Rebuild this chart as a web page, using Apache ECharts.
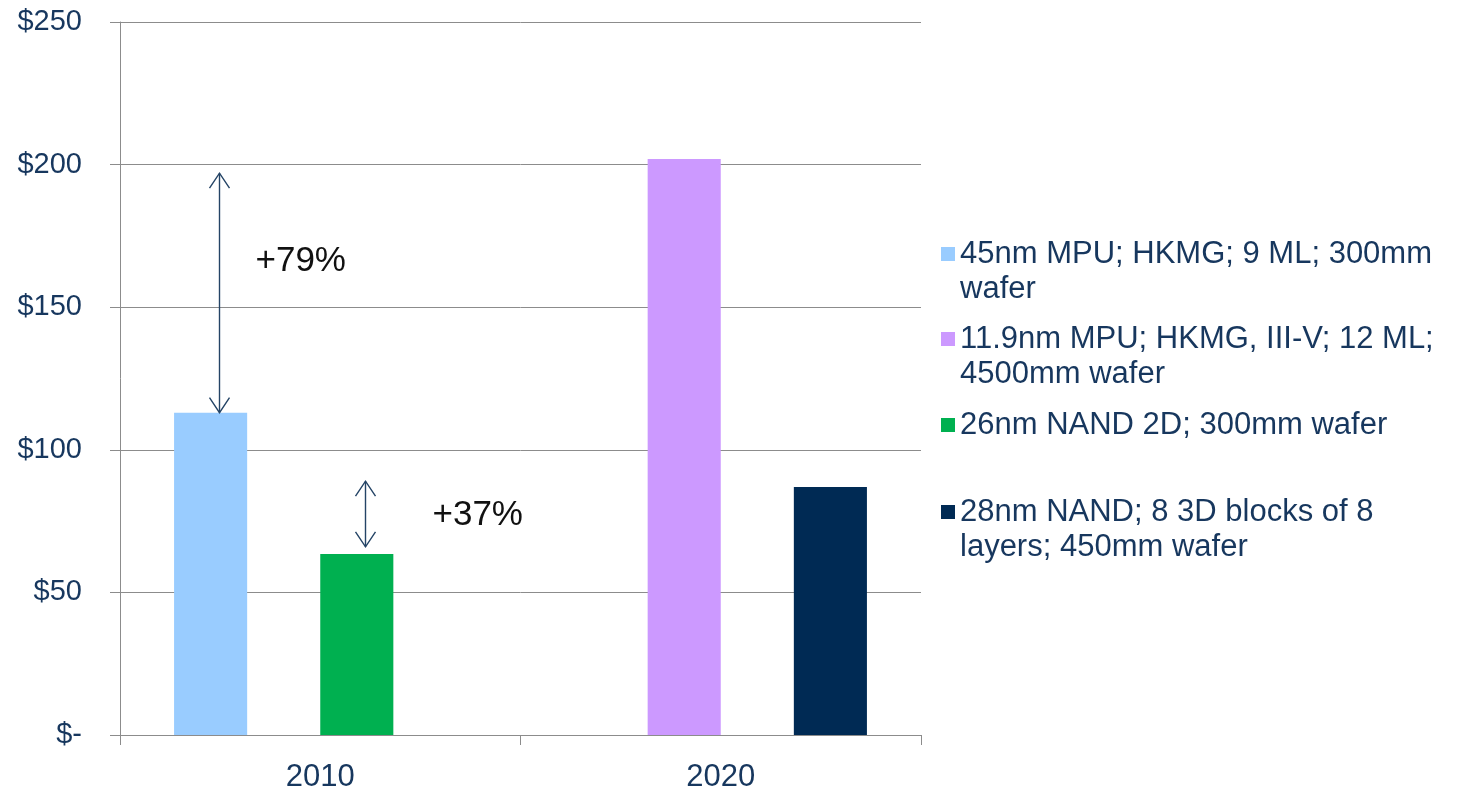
<!DOCTYPE html>
<html>
<head>
<meta charset="utf-8">
<script src="https://cdn.jsdelivr.net/npm/echarts@6/dist/echarts.min.js"></script>
<style>
  html, body { margin: 0; padding: 0; background: #fff; }
  #main { width: 1467px; height: 789px; }
</style>
</head>
<body>
<div id="main"></div>
<script>
// chart data
const categories = ['2010', '2020']
const seriesNames = [
  '45nm MPU; HKMG; 9 ML; 300mm\nwafer',
  '11.9nm MPU; HKMG, III-V; 12 ML;\n4500mm wafer',
  '26nm NAND 2D; 300mm wafer',
  '28nm NAND; 8 3D blocks of 8\nlayers; 450mm wafer'
]
const mpu45 = [113, null]
const mpu119 = [null, 202]
const nand26 = [63.5, null]
const nand28 = [null, 87]
const yTicks = [0, 50, 100, 150, 200, 250]

// growth arrows drawn next to the 2010 bars
const arrowSeries = [0, 2]
const arrowFrom = [113, 66]
const arrowTo = [197, 89]
const arrowLabels = ['+79%', '+37%']
const arrowLabelValue = [166, 77]

const colors = ['#99CCFF', '#CC99FF', '#00B050', '#002A54']
const font = '"Liberation Sans", Arial, sans-serif'
const textBlue = '#17375E'
const gray = '#8C8C8C'

const chart = echarts.init(document.getElementById('main'))

// one legend per entry so each can sit where Excel put it;
// a leading blank line keeps the square level with the first text line
const legendCenters = [254, 339, 425, 512]
const legends = seriesNames.map((name, i) => {
  const twoLines = name.indexOf('\n') >= 0
  return {
    data: [name],
    left: 941,
    top: legendCenters[i] - 17.5 - (twoLines ? 35 : 0),
    orient: 'vertical',
    icon: 'rect',
    itemWidth: 14,
    itemHeight: 14,
    padding: 0,
    selectedMode: false,
    formatter: (n) => (twoLines ? '\n' + n : n),
    textStyle: {
      fontSize: 31,
      fontFamily: font,
      color: textBlue,
      lineHeight: 35
    }
  }
})

const option = {
  backgroundColor: '#fff',
  animation: false,
  color: colors,
  grid: { left: 120, right: 546, top: 22, bottom: 54, containLabel: false, outerBoundsMode: 'none' },
  legend: legends,
  xAxis: {
    type: 'category',
    data: categories,
    axisLine: { lineStyle: { color: gray, width: 1 } },
    axisTick: { show: true, length: 10, lineStyle: { color: gray } },
    axisLabel: { fontSize: 31, fontFamily: font, color: textBlue, margin: 27 }
  },
  yAxis: {
    type: 'value',
    min: 0,
    max: yTicks[yTicks.length - 1],
    interval: 50,
    axisLine: { show: true, lineStyle: { color: gray, width: 1 } },
    axisTick: { show: true, length: 10, lineStyle: { color: gray } },
    splitLine: { lineStyle: { color: gray, width: 1 } },
    axisLabel: {
      fontSize: 29,
      fontFamily: font,
      color: textBlue,
      margin: 38,
      formatter: (v) => (v === 0 ? '$-' : '$' + v)
    }
  },
  series: [mpu45, mpu119, nand26, nand28].map((d, i) => ({
    name: seriesNames[i],
    type: 'bar',
    data: d,
    barGap: '0%',
    barCategoryGap: '27%',
    itemStyle: { color: colors[i] }
  }))
}

chart.setOption(option)

// arrows + labels, positioned from the rendered bars
const drawArrows = () => {
  const elements = []
  arrowSeries.forEach((s, i) => {
    const layout = chart.getModel().getSeriesByIndex(s).getData().getItemLayout(0)
    const x = Math.round(layout.x + layout.width / 2 + 8) + 0.5
    const y1 = chart.convertToPixel({ yAxisIndex: 0 }, arrowFrom[i])
    const y2 = chart.convertToPixel({ yAxisIndex: 0 }, arrowTo[i])
    const ly = chart.convertToPixel({ yAxisIndex: 0 }, arrowLabelValue[i])
    const st = { stroke: '#244466', lineWidth: 1.4, fill: null }
    elements.push(
      { type: 'line', shape: { x1: x, y1: y1, x2: x, y2: y2 }, style: st, z: 10 },
      { type: 'polyline', shape: { points: [[x - 10, y2 + 15], [x, y2], [x + 10, y2 + 15]] }, style: st, z: 10 },
      { type: 'polyline', shape: { points: [[x - 10, y1 - 15], [x, y1], [x + 10, y1 - 15]] }, style: st, z: 10 },
      {
        type: 'text',
        x: x + (i === 0 ? 36 : 67),
        y: ly,
        style: {
          text: arrowLabels[i],
          fontSize: 35,
          fontFamily: font,
          fill: '#111',
          verticalAlign: 'middle'
        },
        z: 10
      }
    )
  })
  chart.setOption({ graphic: { elements: elements } })
}
drawArrows()
</script>
</body>
</html>
